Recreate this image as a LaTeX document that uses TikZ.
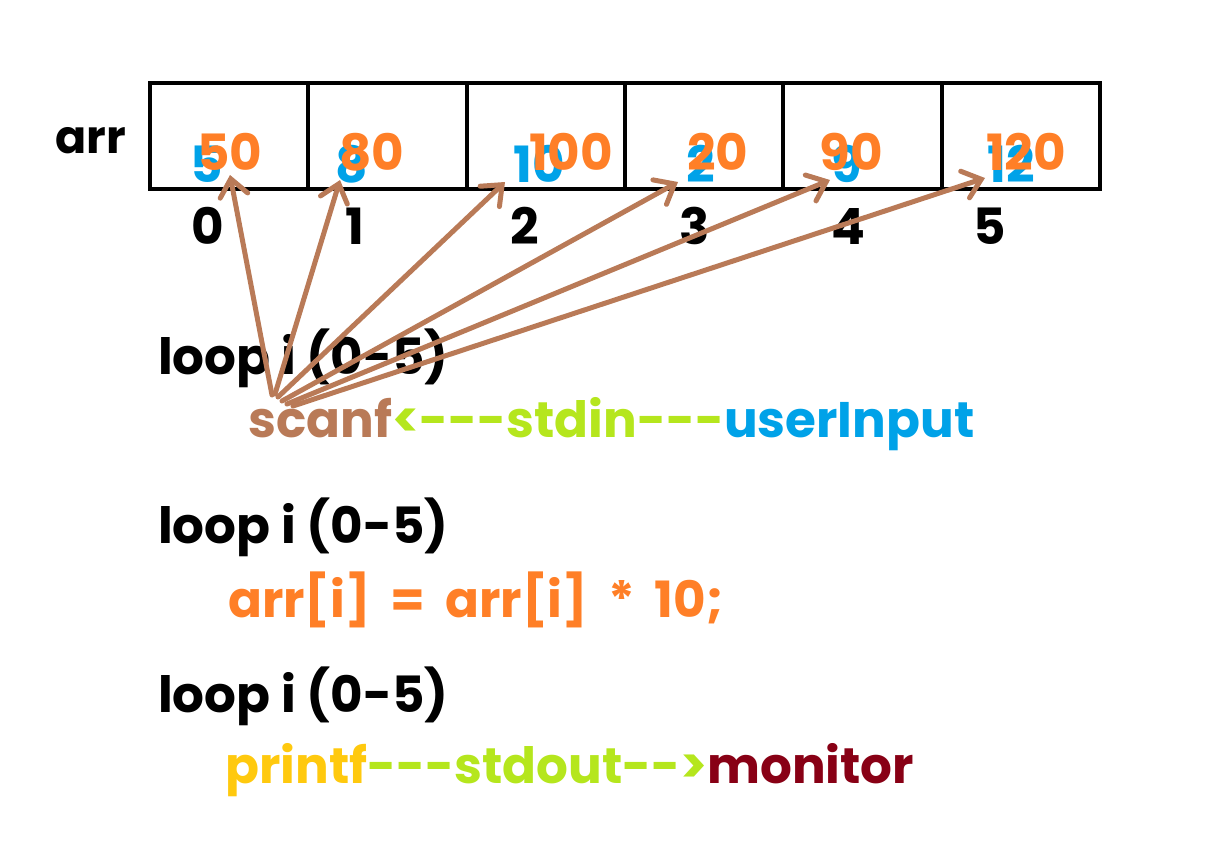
\documentclass[tikz,border=0pt]{standalone}
\usepackage{fontspec}
\newfontfamily\handfont{Poppins}
\usetikzlibrary{arrows.meta}
\definecolor{mybrown}{RGB}{185,122,87}
\definecolor{myorange}{RGB}{255,127,39}
\definecolor{myblue}{RGB}{0,162,232}
\definecolor{mylime}{RGB}{181,230,29}
\definecolor{myyellow}{RGB}{255,201,14}
\definecolor{mymaroon}{RGB}{136,0,21}
\tikzset{>=latex}
\tikzset{
  cell/.style={draw, line width=4, minimum width=158.3, minimum height=106, inner sep=0},
  hand/.style={inner sep=0, anchor=base west, font=\handfont\bfseries\fontsize{50}{60}\selectfont},
  num/.style={inner sep=0, anchor=base, font=\handfont\bfseries\fontsize{50}{60}\selectfont},
  scanline/.style={draw=mybrown, line width=5, line cap=round, -{Straight Barb[length=17,width=28,line cap=round]}}
}
\begin{document}
\begin{tikzpicture}[x=1pt,y=-1pt]
\useasboundingbox (0,0) rectangle (1228,860);
% the array
\foreach \i in {0,...,5}
\node[cell] (c\i) at ({229.2+158.3*\i},136) {};
\node[hand, font=\handfont\bfseries\fontsize{46}{56}\selectfont] (arr) at (55,153) {arr};
% old and new values, indices
\foreach \i / \xa / \va / \xb / \vb / \xi in {0/207/5/230/50/208, 1/352/8/372/80/355, 2/539/10/571/100/525,
  3/701/2/718/20/695, 4/847/9/851/90/848, 5/1011/12/1026/120/990}{
\node[num, text=myblue] (old\i) at (\xa,182) {\va};
\node[num, text=myorange] (new\i) at (\xb,170) {\vb};
\node[num] (idx\i) at (\xi,244) {\i};
}
% the three loops
\node[hand] (loopa) at (158,374) {loop i (0-5)};
\node[hand] (scanf) at (248,437) {\textcolor{mybrown}{scanf}\textcolor{mylime}{<{-}{-}{-}stdin{-}{-}{-}}\textcolor{myblue}{userInput}};
\node[hand] (loopb) at (158,543) {loop i (0-5)};
\node[hand, text=myorange] (calc) at (228,617) {\spaceskip=20pt arr[i] = arr[i] * 10;};
\node[hand] (loopc) at (158,712) {loop i (0-5)};
\node[hand] (printf) at (225,783) {\textcolor{myyellow}{printf}\textcolor{mylime}{{-}{-}{-}stdout{-}{-}>}\textcolor{mymaroon}{monitor}};
% scanf fills each cell
\foreach \i / \sx / \sy / \tx / \ty in {0/272/395/230/175, 1/275/394/340/180, 2/278/397/505/182,
  3/282/401/678/182, 4/287/404/830/180, 5/293/406/985/178}{
\coordinate (from\i) at (\sx,\sy);
\coordinate (to\i) at (\tx,\ty);
\draw[scanline] (from\i) -- (to\i);
}
\end{tikzpicture}
\end{document}
